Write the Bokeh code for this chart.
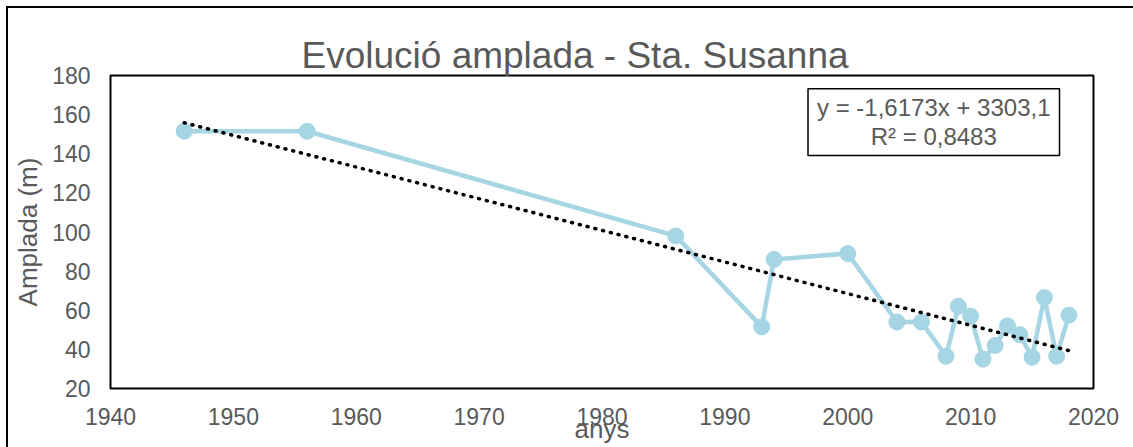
from bokeh.plotting import figure
from bokeh.models import Label, FixedTicker, Range1d
from bokeh.embed import file_html
from bokeh.resources import INLINE
import numpy as np

# ---- data ----
years = [1946, 1956, 1986, 1993, 1994, 2000, 2004, 2006, 2008, 2009,
         2010, 2011, 2012, 2013, 2014, 2015, 2016, 2017, 2018]
amplada = [151.5, 151.5, 98, 51.5, 86, 89, 54, 54, 36.5, 62,
           57, 35, 42, 52, 47.5, 36, 66.5, 36.5, 57.5]
trend_slope = -1.6173
trend_intercept = 3303.1
trend_r2 = 0.8483
x_ticks = [1940, 1950, 1960, 1970, 1980, 1990, 2000, 2010, 2020]
y_ticks = [20, 40, 60, 80, 100, 120, 140, 160, 180]
title_text = "Evolució amplada - Sta. Susanna"
x_label = "anys"
y_label = "Amplada (m)"

FONT = "Liberation Sans"
GREY = "#595959"
BLUE = "#A6D5E3"

p = figure(width=1133, height=447, output_backend="svg", toolbar_location=None,
           x_range=Range1d(1940, 2020), y_range=Range1d(20, 180),
           min_border_left=110, min_border_top=75, min_border_right=40,
           min_border_bottom=59, title=title_text)
p.border_fill_color = None
p.background_fill_color = "white"
p.styles = {"box-shadow": "inset 6px 6px 0 0 white, inset 8px 8px 0 0 black",
            "background-color": "white"}

p.title.text_font = FONT
p.title.text_font_size = "37px"
p.title.text_font_style = "normal"
p.title.text_color = GREY
p.title.align = "left"
p.title.offset = 191
p.title.standoff = 0
p.title.vertical_align = "bottom"

p.outline_line_color = "black"
p.outline_line_width = 2
p.xgrid.visible = False
p.ygrid.visible = False

for ax in (p.xaxis[0], p.yaxis[0]):
    ax.axis_line_color = None
    ax.major_tick_line_color = None
    ax.minor_tick_line_color = None
    ax.major_tick_out = 0
    ax.major_tick_in = 0
    ax.minor_tick_out = 0
    ax.major_label_text_font = FONT
    ax.major_label_text_font_size = "23px"
    ax.major_label_text_color = GREY
    ax.axis_label_text_font = FONT
    ax.axis_label_text_font_size = "26px"
    ax.axis_label_text_color = GREY
    ax.axis_label_text_font_style = "normal"

p.xaxis.ticker = FixedTicker(ticks=x_ticks)
p.yaxis.ticker = FixedTicker(ticks=y_ticks)
p.xaxis.axis_label = x_label
p.yaxis.axis_label = y_label
p.xaxis.major_label_standoff = 19
p.xaxis.axis_label_standoff = -14
p.yaxis.major_label_standoff = 20
p.yaxis.axis_label_standoff = 6

# data series
p.line(years, amplada, line_color=BLUE, line_width=4.5)
p.scatter(years, amplada, size=16, fill_color=BLUE, line_color=BLUE, marker="circle")

# linear trendline from displayed equation
tx = np.array([years[0], years[-1]], dtype=float)
ty = trend_slope * tx + trend_intercept
p.line(tx, ty, line_color="black", line_width=3.5, line_dash="1 7", line_cap="round")

# equation box
eq = "y = " + f"{trend_slope:.4f}".replace(".", ",") + "x + " + \
     f"{trend_intercept:.1f}".replace(".", ",") + "\nR² = " + f"{trend_r2:.4f}".replace(".", ",")
p.add_layout(Label(x=2007.0, y=156.2, text=eq, text_font=FONT, text_font_size="24px",
                   text_color=GREY, text_align="center", text_baseline="middle",
                   text_line_height=1.1,
                   border_line_color="black", border_line_width=1.5,
                   background_fill_color="white",
                   padding=dict(top=5, right=9, bottom=5, left=9)))

open("out.html", "w").write(file_html(p, INLINE))
